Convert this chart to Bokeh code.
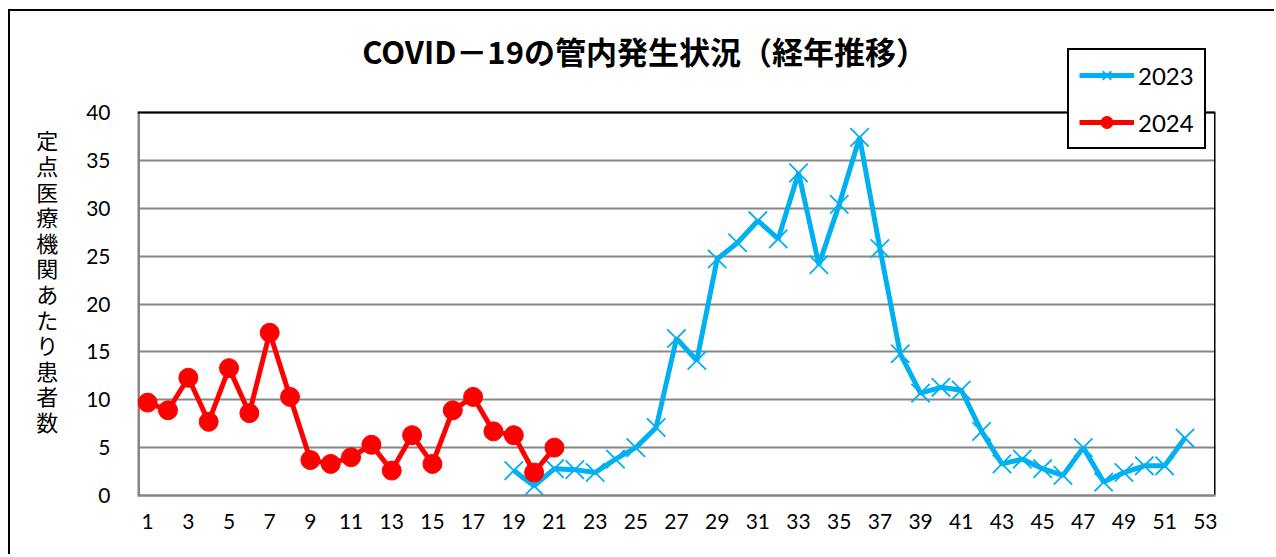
from bokeh.plotting import figure
from bokeh.models import Range1d, FixedTicker, Legend, LegendItem, Label
from bokeh.embed import file_html
from bokeh.resources import INLINE

# ---- data ----
title_text = "COVID－19の管内発生状況（経年推移）"
y_label = "定点医療機関あたり患者数"
weeks_2023 = list(range(19, 53))
values_2023 = [2.6, 1.0, 2.8, 2.7, 2.4, 3.8, 5.0, 7.1, 16.4, 14.1,
               24.7, 26.4, 28.7, 26.8, 33.7, 24.1, 30.4, 37.4, 25.8, 14.8,
               10.7, 11.3, 11.0, 6.7, 3.3, 3.8, 2.8, 2.1, 5.0, 1.4,
               2.4, 3.1, 3.1, 6.0]
weeks_2024 = list(range(1, 22))
values_2024 = [9.7, 8.9, 12.3, 7.7, 13.3, 8.6, 17.0, 10.3, 3.7, 3.3,
               4.0, 5.3, 2.6, 6.3, 3.3, 8.9, 10.3, 6.7, 6.3, 2.4, 5.0]
x_ticks = list(range(1, 54, 2))
y_ticks = [0, 5, 10, 15, 20, 25, 30, 35, 40]
Y_MAX = 40
X_MIN, X_MAX = 0.5, 53.5

BLUE = "#00B0F0"
RED = "#FF0000"
GRAY = "#868686"
FONT = "Lato"
JP = "Noto Sans CJK JP"

p = figure(width=1266, height=545, output_backend="svg", toolbar_location=None,
           x_range=Range1d(X_MIN, X_MAX), y_range=Range1d(0, 50.34),
           min_border_left=127, min_border_right=61, min_border_top=2, min_border_bottom=61,
           styles={"margin-left": "8px", "margin-top": "9px",
                   "border-left": "2px solid black", "border-top": "2px solid black"})

p.background_fill_color = "white"
p.border_fill_color = "white"
p.outline_line_color = None

# axes
p.xaxis.ticker = FixedTicker(ticks=x_ticks)
p.yaxis.ticker = FixedTicker(ticks=y_ticks)
for ax in (p.xaxis, p.yaxis):
    ax.major_tick_line_color = None
    ax.minor_tick_line_color = None
    ax.major_label_text_font = FONT
    ax.major_label_text_font_size = "21px"
    ax.major_label_text_color = "black"
p.xaxis.axis_line_color = GRAY
p.xaxis.axis_line_width = 2.5
p.yaxis.axis_line_color = None
p.xaxis.major_label_standoff = 12
p.yaxis.major_label_standoff = 21

p.yaxis.axis_label = "\n\n" + "\n".join(y_label)
p.yaxis.axis_label_orientation = "horizontal"
p.yaxis.axis_label_text_font = JP
p.yaxis.axis_label_text_font_size = "22px"
p.yaxis.axis_label_text_font_style = "normal"
p.yaxis.axis_label_text_color = "black"
p.yaxis.axis_label_text_line_height = 0.8
p.yaxis.axis_label_standoff = 25

p.xgrid.grid_line_color = None
p.ygrid.grid_line_color = GRAY
p.ygrid.grid_line_width = 2

# plot-area border: gray left, black top and right
p.segment(x0=[X_MIN], y0=[0], x1=[X_MIN], y1=[Y_MAX], line_color=GRAY, line_width=5)
p.segment(x0=[X_MIN], y0=[Y_MAX], x1=[X_MAX], y1=[Y_MAX], line_color="black", line_width=2.2)
p.segment(x0=[X_MAX], y0=[0], x1=[X_MAX], y1=[Y_MAX], line_color="black", line_width=3)

# series
l23 = p.line(weeks_2023, values_2023, line_color=BLUE, line_width=5)
m23 = p.scatter(weeks_2023, values_2023, marker="x", size=26, line_color=BLUE, line_width=1.8)
l24 = p.line(weeks_2024, values_2024, line_color=RED, line_width=5)
m24 = p.scatter(weeks_2024, values_2024, marker="circle", size=19, fill_color=RED, line_color=RED)

# title
p.add_layout(Label(x=25.43, y=46.5, text=title_text, text_align="center", text_baseline="middle",
                   text_font=JP, text_font_size="31px", text_font_style="bold", text_color="black"))

legend = Legend(items=[LegendItem(label="2023", renderers=[l23, m23]),
                       LegendItem(label="2024", renderers=[l24, m24])],
                location=(930, 346), orientation="vertical",
                label_text_font=FONT, label_text_font_size="24px", label_text_color="black",
                border_line_color="black", border_line_width=2, border_line_alpha=1,
                background_fill_color="white", background_fill_alpha=1,
                glyph_width=55, glyph_height=30, spacing=17, padding=10, margin=0,
                label_standoff=4)
p.add_layout(legend, "center")

open("out.html", "w").write(file_html(p, INLINE))
